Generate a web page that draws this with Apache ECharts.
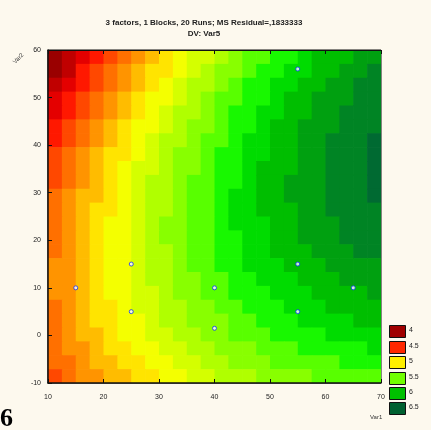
<!DOCTYPE html>
<html><head><meta charset="utf-8">
<script src="https://cdn.jsdelivr.net/npm/echarts@6/dist/echarts.min.js"></script>
<style>html,body{margin:0;padding:0;background:#FDF9EE}#c{width:431px;height:430px}</style>
</head><body><div id="c"></div>
<script>
// ---- data ----
const titleLines = ['3 factors, 1 Blocks, 20 Runs; MS Residual=,1833333', 'DV: Var5'];
const xTicks = [10, 20, 30, 40, 50, 60, 70];
const yTicks = [-10, 0, 10, 20, 30, 40, 50, 60];
const xName = 'Var1';
const yName = 'Var2';
// design points (observed runs)
const designX = [15, 25, 25, 40, 40, 55, 55, 55, 65];
const designY = [10, 15, 5, 10, 1.5, 56, 15, 5, 10];
// fitted surface, level index (0 = dark red ... 20 = dark green), top row first
const surfaceRows = [
[1.0,2.2,3.3,4.4,5.5,6.5,7.5,8.5,9.4,10.3,11.1,11.9,12.7,13.4,14.1,14.7,15.4,15.9,16.5,17.0,17.5,17.9,18.3,18.7],
[1.8,2.9,4.0,5.1,6.1,7.1,8.1,9.0,9.9,10.8,11.6,12.4,13.2,13.9,14.5,15.2,15.8,16.4,16.9,17.4,17.8,18.3,18.7,19.0],
[2.4,3.6,4.7,5.7,6.7,7.7,8.7,9.6,10.4,11.3,12.1,12.9,13.6,14.3,15.0,15.6,16.2,16.7,17.2,17.7,18.2,18.6,19.0,19.3],
[3.1,4.2,5.2,6.3,7.3,8.2,9.2,10.0,10.9,11.7,12.5,13.3,14.0,14.7,15.3,15.9,16.5,17.0,17.5,18.0,18.5,18.9,19.2,19.5],
[3.6,4.7,5.8,6.8,7.8,8.7,9.6,10.5,11.3,12.1,12.9,13.6,14.3,15.0,15.6,16.2,16.8,17.3,17.8,18.3,18.7,19.1,19.4,19.7],
[4.2,5.2,6.3,7.3,8.2,9.1,10.0,10.9,11.7,12.5,13.2,13.9,14.6,15.3,15.9,16.5,17.0,17.5,18.0,18.5,18.9,19.2,19.6,19.9],
[4.7,5.7,6.7,7.7,8.6,9.5,10.4,11.2,12.0,12.8,13.5,14.2,14.9,15.5,16.1,16.7,17.2,17.7,18.2,18.6,19.0,19.4,19.7,20.0],
[5.1,6.1,7.1,8.1,9.0,9.8,10.7,11.5,12.3,13.0,13.8,14.4,15.1,15.7,16.3,16.8,17.4,17.8,18.3,18.7,19.1,19.5,19.8,20.1],
[5.5,6.5,7.5,8.4,9.3,10.1,11.0,11.8,12.5,13.2,13.9,14.6,15.2,15.8,16.4,17.0,17.5,17.9,18.4,18.8,19.1,19.5,19.8,20.1],
[5.9,6.8,7.8,8.7,9.5,10.4,11.2,12.0,12.7,13.4,14.1,14.7,15.4,15.9,16.5,17.0,17.5,18.0,18.4,18.8,19.1,19.5,19.8,20.0],
[6.2,7.1,8.0,8.9,9.8,10.6,11.4,12.1,12.8,13.5,14.2,14.8,15.4,16.0,16.5,17.0,17.5,18.0,18.4,18.8,19.1,19.4,19.7,20.0],
[6.4,7.3,8.2,9.1,9.9,10.7,11.5,12.2,12.9,13.6,14.2,14.9,15.4,16.0,16.5,17.0,17.5,17.9,18.3,18.7,19.0,19.3,19.6,19.8],
[6.6,7.5,8.4,9.2,10.0,10.8,11.6,12.3,13.0,13.6,14.3,14.9,15.4,16.0,16.5,16.9,17.4,17.8,18.2,18.5,18.9,19.2,19.4,19.7],
[6.8,7.7,8.5,9.3,10.1,10.9,11.6,12.3,13.0,13.6,14.2,14.8,15.4,15.9,16.4,16.8,17.3,17.7,18.0,18.4,18.7,19.0,19.2,19.4],
[6.9,7.8,8.6,9.4,10.2,10.9,11.6,12.3,12.9,13.5,14.1,14.7,15.2,15.7,16.2,16.7,17.1,17.5,17.8,18.2,18.5,18.7,19.0,19.2],
[7.0,7.8,8.6,9.4,10.1,10.9,11.5,12.2,12.8,13.4,14.0,14.6,15.1,15.6,16.0,16.4,16.8,17.2,17.6,17.9,18.2,18.4,18.7,18.9],
[7.0,7.8,8.6,9.3,10.1,10.8,11.4,12.1,12.7,13.3,13.8,14.4,14.9,15.3,15.8,16.2,16.6,16.9,17.3,17.6,17.9,18.1,18.3,18.5],
[7.0,7.8,8.5,9.3,10.0,10.6,11.3,11.9,12.5,13.1,13.6,14.1,14.6,15.1,15.5,15.9,16.3,16.6,16.9,17.2,17.5,17.7,17.9,18.1],
[6.9,7.7,8.4,9.1,9.8,10.5,11.1,11.7,12.3,12.8,13.3,13.8,14.3,14.7,15.1,15.5,15.9,16.2,16.5,16.8,17.1,17.3,17.5,17.7],
[6.8,7.6,8.3,9.0,9.6,10.2,10.9,11.4,12.0,12.5,13.0,13.5,13.9,14.4,14.8,15.1,15.5,15.8,16.1,16.4,16.6,16.8,17.0,17.2],
[6.7,7.4,8.1,8.7,9.4,10.0,10.6,11.1,11.7,12.2,12.7,13.1,13.6,14.0,14.3,14.7,15.0,15.3,15.6,15.9,16.1,16.3,16.5,16.6],
[6.4,7.1,7.8,8.5,9.1,9.7,10.2,10.8,11.3,11.8,12.2,12.7,13.1,13.5,13.9,14.2,14.5,14.8,15.1,15.3,15.5,15.7,15.9,16.0],
[6.2,6.9,7.5,8.1,8.7,9.3,9.9,10.4,10.9,11.3,11.8,12.2,12.6,13.0,13.3,13.7,14.0,14.2,14.5,14.7,14.9,15.1,15.3,15.4],
[5.9,6.5,7.2,7.8,8.3,8.9,9.4,9.9,10.4,10.9,11.3,11.7,12.1,12.4,12.8,13.1,13.4,13.6,13.9,14.1,14.3,14.4,14.6,14.7]
];
const legendLabels = ['4', '4.5', '5', '5.5', '6', '6.5'];

// ---- styles ----
const bandColors = ['#780000','#9A0000','#C00000','#E40000','#FF1800','#FF4800','#FF7000','#FF9400',
  '#FFBC00','#FFE400','#F4FF00','#D4FF00','#B0FF00','#88FF00','#58FF00','#18F800','#00DC00',
  '#00BE00','#00A010','#008424','#006A32'];
const legendColors = ['#A00000','#FF2800','#FFF000','#70FF00','#00C000','#006030'];

// ---- build ----
const nRows = surfaceRows.length, nCols = surfaceRows[0].length;
const xMin = xTicks[0], xMax = xTicks[xTicks.length - 1];
const yMin = yTicks[0], yMax = yTicks[yTicks.length - 1];
const dx = (xMax - xMin) / nCols, dy = (yMax - yMin) / nRows;
const cells = [];
surfaceRows.forEach((row, r) => {
  const j = nRows - 1 - r;
  row.forEach((v, i) => cells.push([xMin + dx * (i + 0.5), yMin + dy * (j + 0.5), v]));
});
const points = designX.map((x, i) => [x, designY[i]]);

const chart = echarts.init(document.getElementById('c'), null, {renderer: 'canvas'});
const lblStyle = {fontSize: 7, color: '#222', fontFamily: 'Liberation Sans, Arial, sans-serif'};
const legendGraphics = [];
legendLabels.forEach((t, k) => {
  const y = [325, 341, 356, 372, 387, 402][k];
  legendGraphics.push({type: 'rect', left: 389, top: y, shape: {width: 16, height: 12},
    style: {fill: legendColors[k], stroke: '#111', lineWidth: 1}});
  legendGraphics.push({type: 'text', left: 409, top: y + 2,
    style: {text: t, fontSize: 7, fill: '#222', fontFamily: 'Liberation Sans, Arial, sans-serif'}});
});

chart.setOption({
  animation: false,
  backgroundColor: '#FDF9EE',
  title: {
    text: titleLines.join('\n'), left: 199, top: 12, textAlign: 'center',
    textStyle: {fontSize: 8, fontWeight: 'bold', color: '#222', lineHeight: 11,
      fontFamily: 'Liberation Sans, Arial, sans-serif'}
  },
  grid: {left: 48, top: 50, width: 333, height: 333, show: true, borderColor: '#111', borderWidth: 1, backgroundColor: 'transparent'},
  xAxis: [{
    type: 'value', min: xMin, max: xMax, interval: 10, z: 10,
    axisLine: {show: true, onZero: false, lineStyle: {color: '#111', width: 1.5}},
    axisTick: {show: true, inside: true, length: 4, lineStyle: {color: '#111'}},
    axisLabel: Object.assign({margin: 11}, lblStyle),
    splitLine: {show: false}
  }, {
    type: 'value', position: 'top', min: xMin, max: xMax, interval: 10, z: 10,
    axisLine: {show: true, onZero: false, lineStyle: {color: '#111'}},
    axisTick: {show: true, inside: true, length: 4, lineStyle: {color: '#111'}},
    axisLabel: {show: false}, splitLine: {show: false}
  }],
  yAxis: [{
    type: 'value', min: yMin, max: yMax, interval: 10, z: 10,
    axisLine: {show: true, onZero: false, lineStyle: {color: '#111', width: 1.5}},
    axisTick: {show: true, inside: true, length: 4, lineStyle: {color: '#111'}},
    axisLabel: Object.assign({margin: 7}, lblStyle),
    splitLine: {show: false}
  }],
  graphic: [
    {type: 'text', left: 12, top: 52, rotation: Math.PI / 4,
      style: {text: yName, fontSize: 6, fill: '#333', fontFamily: 'Liberation Sans, Arial, sans-serif'}},
    {type: 'text', left: 370, top: 414,
      style: {text: xName, fontSize: 6, fill: '#333', fontFamily: 'Liberation Sans, Arial, sans-serif'}},
    {type: 'text', left: 0, top: 406,
      style: {text: '6', fontSize: 26, fontWeight: 'bold', fill: '#000', fontFamily: 'Liberation Serif, serif'}}
  ].concat(legendGraphics),
  series: [{
    type: 'custom', data: cells, clip: true, silent: true, z: 1,
    encode: {x: 0, y: 1},
    renderItem: function (params, api) {
      const x = api.value(0), y = api.value(1), v = api.value(2);
      const p0 = api.coord([x - dx / 2, y + dy / 2]);
      const p1 = api.coord([x + dx / 2, y - dy / 2]);
      const k = Math.max(0, Math.min(bandColors.length - 1, Math.floor(v)));
      return {type: 'rect', shape: {x: p0[0], y: p0[1], width: p1[0] - p0[0] + 0.7, height: p1[1] - p0[1] + 0.7},
        style: {fill: bandColors[k]}};
    }
  }, {
    type: 'scatter', data: points, symbol: 'circle', symbolSize: 4, z: 5, silent: true,
    itemStyle: {color: '#FFFFFF', borderColor: '#1030FF', borderWidth: 1}
  }]
});
</script></body></html>
